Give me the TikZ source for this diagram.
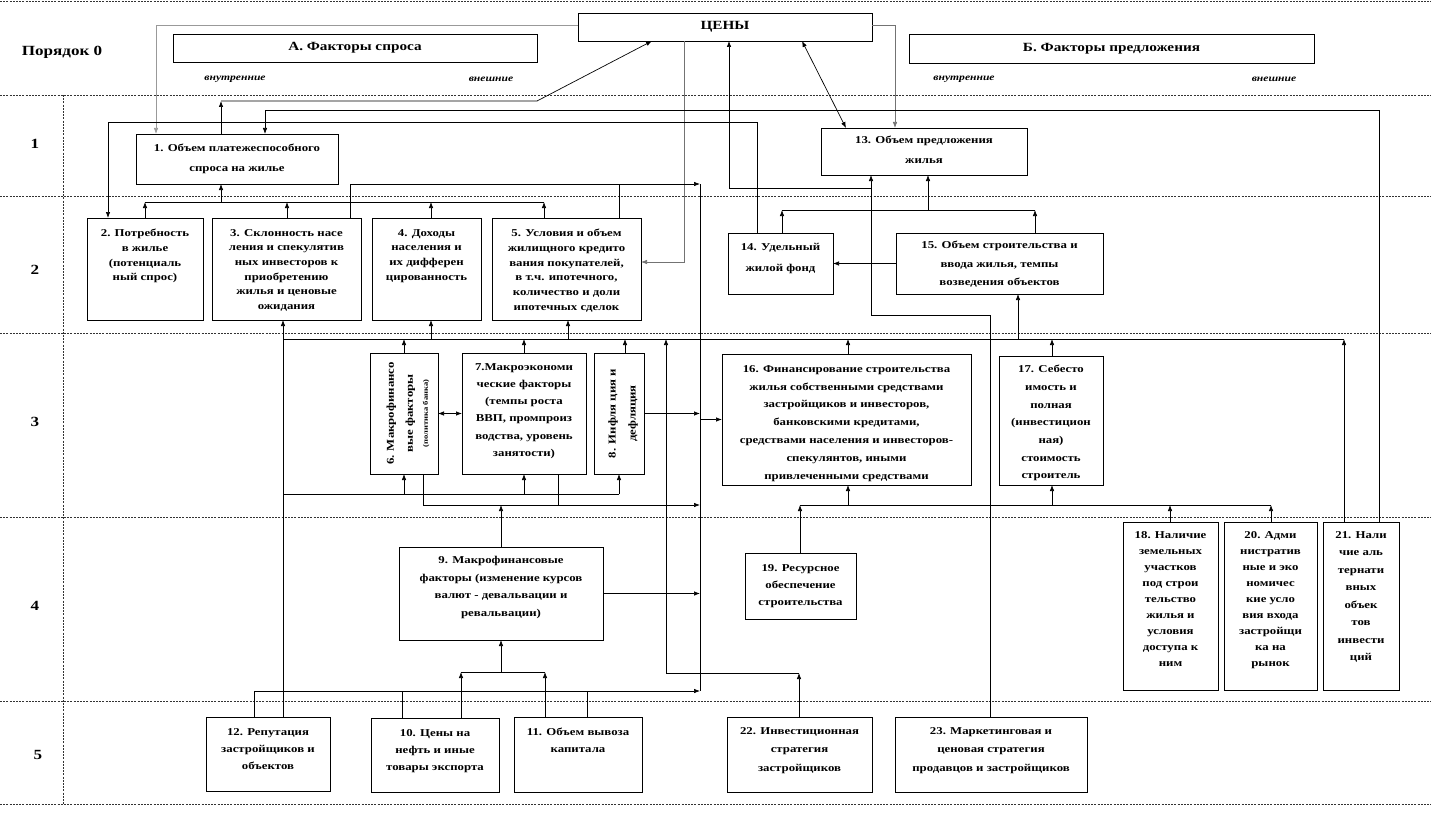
\documentclass[tikz,border=0pt]{standalone}
\usepackage{fontspec}
\setmainfont{Liberation Serif}[FakeStretch=1.22]
\usetikzlibrary{arrows.meta}
\tikzset{
  box/.style={draw, line width=0.9pt, inner sep=0pt, outer sep=0pt},
  lab/.style={anchor=north, inner sep=0pt, align=center},
  ln/.style={line width=0.7pt},
  arr/.style={ln, -{Latex[length=6pt,width=4.5pt]}},
  arrb/.style={ln, {Latex[length=6pt,width=4.5pt]}-{Latex[length=6pt,width=4.5pt]}},
  dl/.style={line width=0.6pt, dash pattern=on 2pt off 1.2pt, black!80},
  rowlab/.style={font=\bfseries\fontsize{14}{16}\selectfont, inner sep=0pt},
  ttl/.style={font=\bfseries\fontsize{12.5}{14}\selectfont},
  itl/.style={font=\bfseries\itshape\fontsize{9.5}{11}\selectfont, inner sep=0pt},
}
\newcommand\mybox[7]{\node[box, minimum width=#3pt, minimum height=#4pt,
  label={[lab, yshift=-#7pt, font=\bfseries\fontsize{10.5}{#5}\selectfont]north:{#6}}] (#1) at (#2) {};}
\begin{document}
\begin{tikzpicture}[x=1pt,y=-1pt]
\useasboundingbox (0,0) rectangle (1431,832);
% grid
\foreach \yy in {1,95,196,333,517,701,804} \draw[dl] (0,\yy) -- (1431,\yy);
\draw[dl] (63,95) -- (63,804);
% row labels
\node[rowlab] (r0) at (62,52) {Порядок 0};
\node[rowlab] (r1) at (35,144) {1};
\node[rowlab] (r2) at (35,270) {2};
\node[rowlab] (r3) at (35,422) {3};
\node[rowlab] (r4) at (35,606) {4};
\node[rowlab] (r5) at (38,755) {5};
% top
\node[box, ttl, minimum width=294pt, minimum height=28pt] (prices) at (725,27) {ЦЕНЫ};
\node[box, ttl, minimum width=364pt, minimum height=28pt] (fa) at (355,48) {А. Факторы спроса};
\node[box, ttl, minimum width=405pt, minimum height=29pt] (fb) at (1111.5,48.5) {Б. Факторы предложения};
\node[itl] (ia) at (235,79) {внутренние};
\node[itl] (ea) at (491,79) {внешние};
\node[itl] (ib) at (964,79) {внутренние};
\node[itl] (eb) at (1274,79) {внешние};
% row 1
\mybox{b1}{237,159}{202}{50}{20}{1. Объем платежеспособного\\спроса  на жилье}{10}
\mybox{b13}{924,151.5}{206}{47}{20}{13. Объем предложения\\жилья}{8}
% row 2
\mybox{b2}{145,269}{116}{102}{14.7}{2. Потребность\\в жилье\\(потенциаль\\ный  спрос)}{11}
\mybox{b3}{286.5,269}{149}{102}{14.7}{3. Склонность  насе\\ления и спекулятив\\ных инвесторов  к\\приобретению\\жилья и ценовые\\ожидания}{11}
\mybox{b4}{426.5,269}{109}{102}{14.7}{4. Доходы\\населения  и\\их дифферен\\цированность}{11}
\mybox{b5}{566.5,269}{149}{102}{14.7}{5. Условия  и объем\\жилищного  кредито\\вания покупателей,\\в т.ч. ипотечного,\\количество  и доли\\ипотечных  сделок}{11}
\mybox{b14}{780.5,263.5}{105}{61}{21}{14. Удельный\\жилой  фонд}{10}
\mybox{b15}{999.5,263.5}{207}{61}{18.5}{15. Объем строительства  и\\ввода жилья, темпы\\возведения  объектов}{8}
% row 3
\node[box, minimum width=68pt, minimum height=121pt,
  label={[inner sep=0pt, anchor=center, xshift=4pt, rotate=90, align=center,
  font=\bfseries\fontsize{10.5}{19}\selectfont]center:{6. Макрофинансо\\вые факторы\\[-4pt]{\fontsize{7}{9}\selectfont (политика банка)}}}] (b6) at (404,413.5) {};
\mybox{b7}{524,413.5}{124}{121}{17.3}{7.Макроэкономи\\ческие  факторы\\(темпы  роста\\ВВП, промпроиз\\водства, уровень\\занятости)}{10}
\node[box, minimum width=50pt, minimum height=121pt,
  label={[inner sep=0pt, anchor=center, xshift=4pt, rotate=90, align=center,
  font=\bfseries\fontsize{10.5}{20}\selectfont]center:{8. Инфля ция и\\дефляция}}] (b8) at (619,413.5) {};
\mybox{b16}{846.5,419.5}{249}{131}{17.9}{16. Финансирование  строительства\\жилья собственными  средствами\\застройщиков  и инвесторов,\\банковскими  кредитами,\\средствами  населения  и инвесторов-\\спекулянтов,  иными\\привлеченными  средствами}{11}
\mybox{b17}{1051,420.5}{104}{129}{17.7}{17. Себесто\\имость  и\\полная\\(инвестицион\\ная)\\стоимость\\строитель}{9}
% row 4
\mybox{b9}{501,593.5}{204}{93}{17.7}{9. Макрофинансовые\\факторы  (изменение  курсов\\валют  - девальвации  и\\ревальвации)}{9}
\mybox{b19}{800.5,586}{111}{66}{17}{19. Ресурсное\\обеспечение\\строительства}{11}
\mybox{b18}{1170.5,606}{95}{168}{16}{18. Наличие\\земельных\\участков\\под строи\\тельство\\жилья и\\условия\\доступа  к\\ним}{9}
\mybox{b20}{1270.5,606}{93}{168}{16}{20. Адми\\нистратив\\ные и эко\\номичес\\кие усло\\вия входа\\застройщи\\ка  на\\рынок}{9}
\mybox{b21}{1361,606}{76}{168}{17.5}{21. Нали\\чие аль\\тернати\\вных\\объек\\тов\\инвести\\ций}{9}
% row 5
\mybox{b12}{268,754}{124}{74}{17}{12. Репутация\\застройщиков  и\\объектов}{11}
\mybox{b10}{435,755}{128}{74}{17}{10. Цены  на\\нефть  и иные\\товары  экспорта}{11}
\mybox{b11}{578,754.5}{128}{75}{17}{11. Объем вывоза\\капитала}{11}
\mybox{b22}{799.5,754.5}{145}{75}{18.5}{22. Инвестиционная\\стратегия\\застройщиков}{10}
\mybox{b23}{991,754.5}{192}{75}{18.5}{23. Маркетинговая  и\\ценовая  стратегия\\продавцов  и застройщиков}{10}
% ---------- connectors ----------
\coordinate (j1) at (221,101);
\coordinate (bt) at (700,184);
\coordinate (bb) at (700,691);
% prices -> 1, 13, 5
\draw[arr, black!40] ([yshift=2pt]prices.west) -| ([xshift=20pt]b1.north west);
\draw[arr, black!55] ([yshift=2pt]prices.east) -| ([xshift=74pt]b13.north west);
\draw[arr, black!55] ([xshift=106pt]prices.south west) |- ([yshift=7pt]b5.east);
\draw[arrb] ([xshift=224pt]prices.south west) -- ([xshift=25pt]b13.north west);
% 1 -> prices
\draw[arr] ([xshift=85pt]b1.north west) -- (j1);
\draw[arr] (j1) -- (537,101) -- ([xshift=74pt]prices.south west);
% 21 -> 1, 14 -> 2
\draw[arr] ([xshift=56pt]b21.north west) |- (265,110) -- ([xshift=129pt]b1.north west);
\draw[arr] ([xshift=29pt]b14.north west) |- (108,122) -- ([xshift=21pt]b2.north west);
% bus
\draw[ln] (bt) -- (bb);
\draw[arr] ([xshift=138pt]b3.north west) |- (bt);
\draw[ln] ([xshift=127pt]b5.north west) -- (619,184);
\draw[arr] (700,419.5) -- (b16.west);
% 23 -> 13, prices
\draw[arr] ([xshift=95pt]b23.north west) |- (871,315) -- ([xshift=50pt]b13.south west);
\draw[arr] (871,188) -| ([xshift=151pt]prices.south west);
% 14, 15 -> 13
\draw[arr] ([xshift=54pt]b14.north west) -- (782,210);
\draw[arr] ([xshift=139pt]b15.north west) -- (1035,210);
\draw[ln] (782,210) -- (1035,210);
\draw[arr] (928,210) -- ([xshift=107pt]b13.south west);
\draw[arr] (b15.west) -- (b14.east);
% 2..5 -> 1
\draw[arr] ([xshift=58pt]b2.north west) -- (145,202);
\draw[arr] ([xshift=75pt]b3.north west) -- (287,202);
\draw[arr] ([xshift=59pt]b4.north west) -- (431,202);
\draw[arr] ([xshift=52pt]b5.north west) -- (544,202);
\draw[ln] (145,202) -- (544,202);
\draw[arr] (221,202) -- ([xshift=85pt]b1.south west);
% line y=339
\draw[ln] (283,339) -- (1344,339);
\draw[ln] ([xshift=77pt]b12.north west) -- (283,339);
\draw[arr] (283,339) -- ([xshift=71pt]b3.south west);
\draw[arr] (431,339) -- ([xshift=59pt]b4.south west);
\draw[arr] (568,339) -- ([xshift=76pt]b5.south west);
\draw[arr] ([xshift=34pt]b6.north west) -- (404,339);
\draw[arr] ([xshift=62pt]b7.north west) -- (524,339);
\draw[arr] ([xshift=31pt]b8.north west) -- (625,339);
\draw[arr] ([xshift=126pt]b16.north west) -- (848,339);
\draw[arr] ([xshift=53pt]b17.north west) -- (1052,339);
\draw[arr] ([xshift=21pt]b21.north west) -- (1344,339);
\draw[arr] (1018,339) -- ([xshift=122pt]b15.south west);
% 22
\draw[arr] ([xshift=72pt]b22.north west) -- (799,673);
\draw[arr] (799,673) -- (666,673) -- (666,339);
% line y=494
\draw[ln] (283,494) -- (619,494);
\draw[arr] (404,494) -- ([xshift=34pt]b6.south west);
\draw[arr] (524,494) -- ([xshift=62pt]b7.south west);
\draw[arr] (619,494) -- ([xshift=25pt]b8.south west);
% line y=505 left
\draw[arr] ([xshift=53pt]b6.south west) |- (700,505);
\draw[ln] ([xshift=96pt]b7.south west) -- (558,505);
\draw[arr] ([xshift=102pt]b9.north west) -- (501,505);
\draw[arr] (b8.east) -- (700,413.5);
\draw[arrb] (b6.east) -- (b7.west);
\draw[arr] (b9.east) -- (700,593.5);
% 10, 11 -> 9
\draw[arr] ([xshift=90pt]b10.north west) -- (461,672);
\draw[arr] ([xshift=31pt]b11.north west) -- (545,672);
\draw[ln] (461,672) -- (545,672);
\draw[arr] (501,672) -- ([xshift=102pt]b9.south west);
% line y=691
\draw[arr] (254,691) -- (bb);
\draw[ln] ([xshift=48pt]b12.north west) -- (254,691);
\draw[ln] ([xshift=31pt]b10.north west) -- (402,691);
\draw[ln] ([xshift=73pt]b11.north west) -- (587,691);
% line y=505 right
\draw[ln] (800,505) -- (1271,505);
\draw[arr] ([xshift=55pt]b19.north west) -- (800,505);
\draw[arr] ([xshift=47pt]b18.north west) -- (1170,505);
\draw[arr] ([xshift=47pt]b20.north west) -- (1271,505);
\draw[arr] (848,505) -- ([xshift=126pt]b16.south west);
\draw[arr] (1052,505) -- ([xshift=53pt]b17.south west);
\end{tikzpicture}
\end{document}
